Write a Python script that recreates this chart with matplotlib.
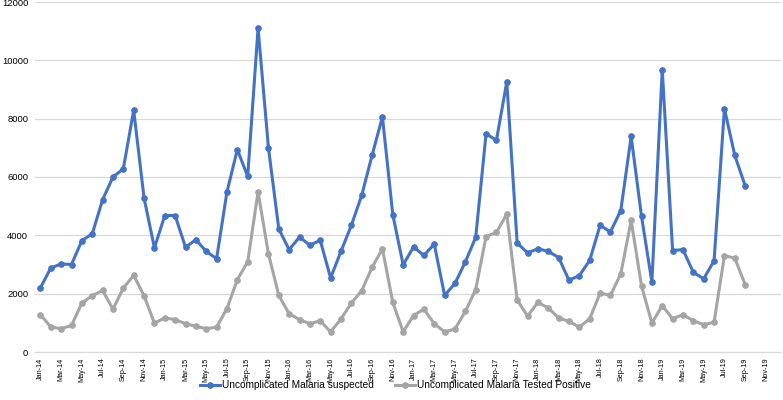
import matplotlib.pyplot as plt
import numpy as np

months = ["Jan", "Feb", "Mar", "Apr", "May", "Jun",
          "Jul", "Aug", "Sep", "Oct", "Nov", "Dec"]
years = ["14", "15", "16", "17", "18", "19"]
categories = [m + "-" + y for y in years for m in months]

suspected = [2200, 2880, 3020, 3000, 3820, 4050, 5220, 6000, 6280, 8290, 5280, 3570,
             4680, 4680, 3590, 3850, 3450, 3200, 5490, 6940, 6020, 11100, 7010, 4220,
             3510, 3940, 3660, 3830, 2540, 3450, 4340, 5370, 6740, 8060, 4710, 2990,
             3600, 3310, 3700, 1940, 2350, 3090, 3930, 7480, 7260, 9260, 3740, 3400,
             3540, 3450, 3240, 2460, 2620, 3140, 4340, 4120, 4850, 7390, 4650, 2400,
             9680, 3480, 3510, 2730, 2510, 3130, 8340, 6740, 5700]

positive = [1280, 860, 800, 910, 1680, 1930, 2110, 1470, 2190, 2630, 1930, 990,
            1170, 1110, 970, 880, 800, 850, 1490, 2480, 3090, 5490, 3370, 1940,
            1310, 1110, 970, 1070, 690, 1130, 1680, 2100, 2900, 3540, 1700, 690,
            1250, 1470, 970, 690, 790, 1390, 2140, 3960, 4100, 4730, 1790, 1230,
            1700, 1510, 1170, 1050, 850, 1140, 2020, 1940, 2680, 4510, 2270, 990,
            1590, 1140, 1280, 1070, 940, 1020, 3300, 3220, 2310]

tick_font = ["Liberation Sans Narrow", "DejaVu Sans Condensed", "Liberation Sans"]

fig = plt.figure(figsize=(7.83, 4.0), dpi=100)
ax = fig.add_axes([0.045, 0.12, 0.953, 0.875])

x = np.arange(len(suspected))
ax.plot(x, suspected, color="#4472C4", lw=2.2, marker="o", ms=3.8,
        label="Uncomplicated Malaria suspected")
ax.plot(x, positive, color="#A5A5A5", lw=2.2, marker="o", ms=3.8,
        label="Uncomplicated Malaria Tested Positive")

ax.set_xlim(-0.5, len(categories) - 0.5)
ax.set_ylim(0, 12000)
ax.set_yticks(np.arange(0, 12001, 2000))
ax.set_xticks(np.arange(0, len(categories), 2))
ax.set_xticklabels(categories[::2], rotation=90, family=tick_font, fontsize=5.2)
for lab in ax.get_yticklabels():
    lab.set_family(tick_font)
ax.tick_params(axis="y", labelsize=6.8, length=0, pad=5)
ax.tick_params(axis="x", length=0, pad=4)
ax.grid(axis="y", color="#D9D9D9", lw=0.9)
ax.set_axisbelow(True)
for s in ["top", "right", "left"]:
    ax.spines[s].set_visible(False)
ax.spines["bottom"].set_color("#D9D9D9")

fig.legend(*ax.get_legend_handles_labels(), loc="center", bbox_to_anchor=(0.505, 0.037),
           ncol=2, frameon=False, handlelength=2.0, handletextpad=0.2,
           columnspacing=2.0, prop={"family": tick_font, "size": 7.3})

fig.savefig("out.png", dpi=100)
